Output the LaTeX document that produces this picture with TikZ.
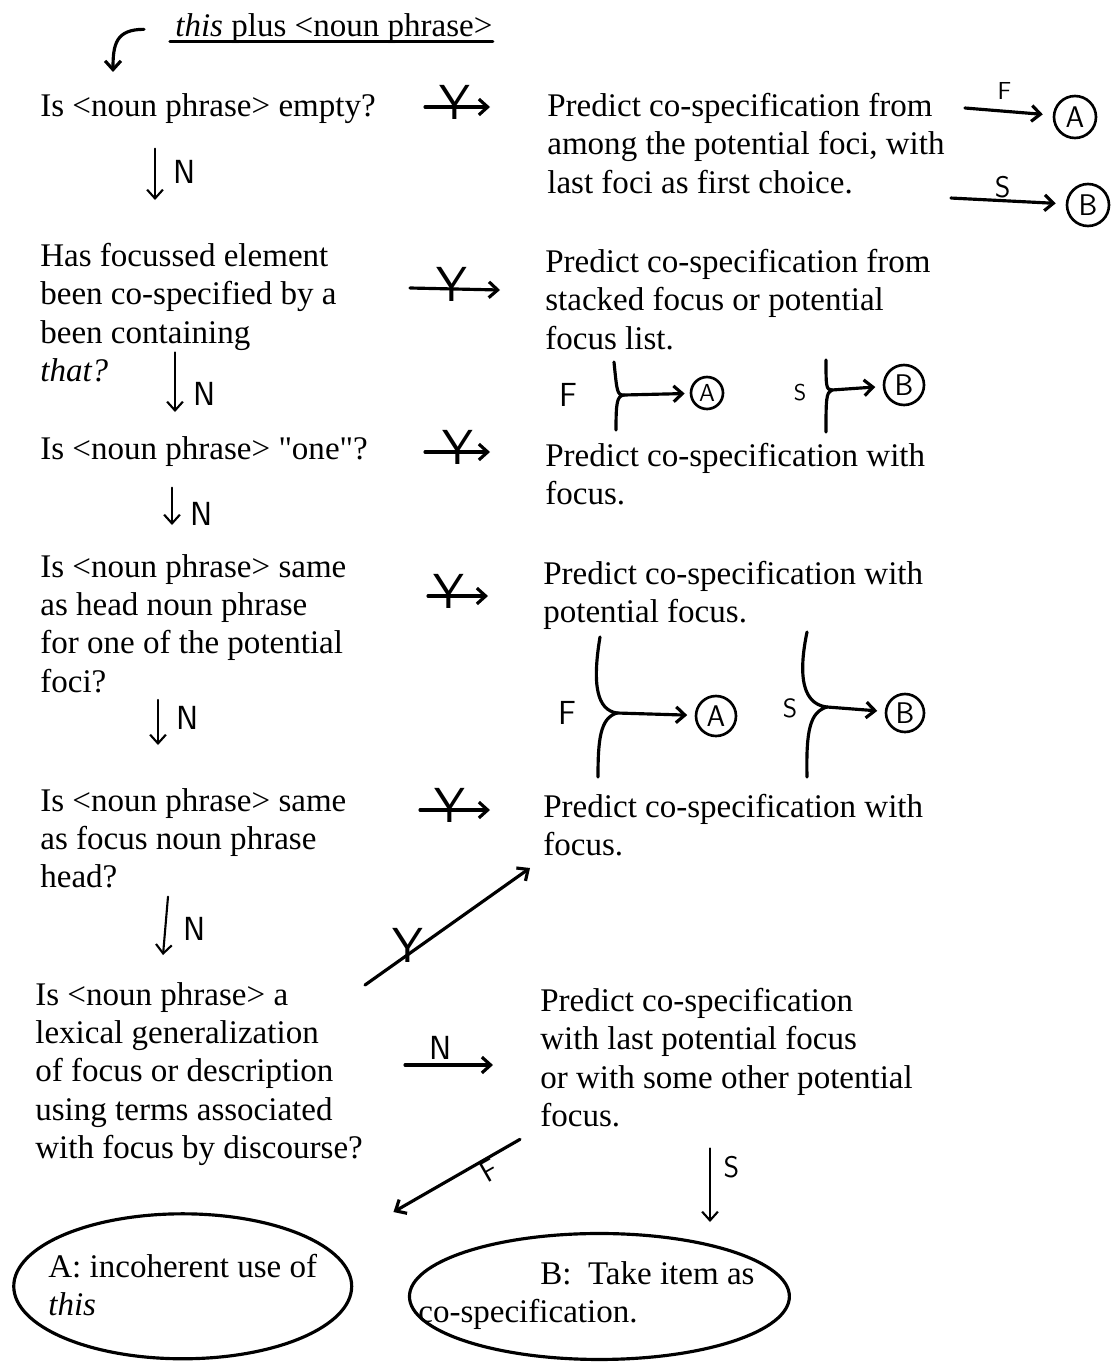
\documentclass[tikz,border=0pt]{standalone}
\usepackage{fontspec}
\setmainfont{Liberation Serif}[Ligatures=TeXOff]
\usetikzlibrary{arrows.meta}

\tikzset{
  hand/.style={line width=1.8pt, line cap=round, line join=round},
  flow/.style={hand, -{Straight Barb[length=5pt, width=9pt]}},
  nflow/.style={line width=1.2pt, line cap=round, -{Straight Barb[length=5pt, width=9pt]}},
  qtext/.style={anchor=north west, inner sep=0pt, align=left, font=\fontsize{18.8pt}{21.8pt}\selectfont},
  lab/.style={inner sep=0pt, font=\sffamily\fontsize{19pt}{19pt}\selectfont},
  nlab/.style={lab, anchor=west, xshift=0.35cm},
  ylab/.style={lab, font=\sffamily\fontsize{28pt}{28pt}\selectfont, yshift=0.1cm},
  endpt/.style={circle, draw, line width=1.5pt, inner sep=0pt, minimum size=0.84cm, font=\sffamily\fontsize{17pt}{17pt}\selectfont},
}

\begin{document}
\begin{tikzpicture}[x=0.02cm, y=-0.02cm]
\useasboundingbox (0,0) rectangle (1111,1362);

% questions
\node[qtext] (title) at (175,13) {\textit{this} plus <noun phrase>};
\node[qtext] (q1) at (40,93) {Is <noun phrase> empty?};
\node[qtext] (q2) at (40,243) {Has focussed element\\been co-specified by a\\been containing\\\textit{that?}};
\node[qtext] (q3) at (40,436) {Is <noun phrase> "one"?};
\node[qtext] (q4) at (40,554) {Is <noun phrase> same\\as head noun phrase\\for one of the potential\\foci?};
\node[qtext] (q5) at (40,788) {Is <noun phrase> same\\as focus noun phrase\\head?};
\node[qtext] (q6) at (35,982) {Is <noun phrase> a\\lexical generalization\\of focus or description\\using terms associated\\with focus by discourse?};

% predictions
\node[qtext] (p1) at (547,93) {Predict co-specification from\\among the potential foci, with\\last foci as first choice.};
\node[qtext] (p2) at (545,249) {Predict co-specification from\\stacked focus or potential\\focus list.};
\node[qtext] (p3) at (545,443) {Predict co-specification with\\focus.};
\node[qtext] (p4) at (543,561) {Predict co-specification with\\potential focus.};
\node[qtext] (p5) at (543,794) {Predict co-specification with\\focus.};
\node[qtext] (p6) at (540,988) {Predict co-specification\\with last potential focus\\or with some other potential\\focus.};

% outcomes
\node[qtext] (enda) at (48,1254) {A: incoherent use of\\\textit{this}};
\node[qtext] (endb) at (418,1261) {\hspace*{2.44cm}B:\ \ Take item as\\co-specification.};
\draw[hand] ([shift={(0,1)}]enda.center) ellipse [x radius=3.38cm, y radius=1.45cm];
\draw[hand] ([shift={(13,1)}]endb.center) ellipse [x radius=3.8cm, y radius=1.26cm];

% circled A and B
\node[endpt] (ca1) at (1075,117) {A};
\node[endpt] (cb1) at (1088,205) {B};
\node[endpt, minimum size=0.64cm, font=\sffamily\fontsize{14pt}{14pt}\selectfont] (ca2) at (707,393) {A};
\node[endpt, minimum size=0.8cm] (cb2) at (904,385) {B};
\node[endpt, minimum size=0.8cm] (ca4) at (716,716) {A};
\node[endpt, minimum size=0.76cm] (cb4) at (905,713) {B};

% title
\draw[hand] ([shift={(-5,-2)}]title.south west) -- ([shift={(0,-2)}]title.south east);
\draw[flow] ([shift={(-31,1)}]title.west) .. controls +(-28,0) and +(0,-28) .. ([shift={(73,-21)}]q1.north west);

% no
\draw[nflow] ([shift={(115,25)}]q1.south west) -- node[nlab, pos=0.45]{N} ([shift={(115,-43)}]q2.north west);
\draw[nflow] ([shift={(135,-30)}]q2.south west) -- node[nlab, pos=0.7]{N} ([shift={(135,-24)}]q3.north west);
\draw[nflow] ([shift={(132,21)}]q3.south west) -- node[nlab, pos=0.7]{N} ([shift={(132,-29)}]q4.north west);
\draw[nflow] ([shift={(118,7)}]q4.south west) -- node[nlab, pos=0.4]{N} ([shift={(118,-43)}]q5.north west);
\draw[nflow] ([shift={(128,8)}]q5.south west) -- node[nlab, pos=0.55]{N} ([shift={(128,-27)}]q6.north west);
\draw[flow] ([shift={(370,83)}]q6.north west) -- node[lab, pos=0.4, anchor=south, yshift=0.08cm]{N} ([shift={(-47,77)}]p6.north west);

% yes
\draw[flow] ([shift={(385,14)}]q1.north west) -- node[ylab, pos=0.46]{Y} ([shift={(-57,14)}]p1.north west);
\draw[flow] ([shift={(370,45)}]q2.north west) -- node[ylab, pos=0.47]{Y} ([shift={(-45,41)}]p2.north west);
\draw[flow] ([shift={(385,16)}]q3.north west) -- node[ylab, pos=0.5]{Y} ([shift={(-55,9)}]p3.north west);
\draw[flow] ([shift={(388,42)}]q4.north west) -- node[ylab, pos=0.35]{Y} ([shift={(-55,35)}]p4.north west);
\draw[flow] ([shift={(380,22)}]q5.north west) -- node[ylab, pos=0.43]{Y} ([shift={(-53,16)}]p5.north west);
\draw[flow] ([shift={(330,3)}]q6.north west) -- node[ylab, pos=0.26, yshift=0.08cm]{Y} ([shift={(-13,74)}]p5.north west);

% first choice
\draw[flow, shorten >=0.2cm] ([shift={(20,15)}]p1.north east) -- node[lab, pos=0.45, anchor=south, yshift=0.2cm, font=\sffamily\fontsize{14pt}{14pt}\selectfont]{F} (ca1);
\draw[flow, shorten >=0.2cm] ([shift={(6,4)}]p1.south east) -- node[lab, pos=0.45, anchor=south, yshift=0.02cm, font=\sffamily\fontsize{17pt}{17pt}\selectfont]{S} (cb1);

% stacked focus
\node[lab] (f2) at (568,395) {F};
\coordinate (j2) at (624,395);
\draw[hand] (614,362) .. controls (617,392) and (617,395) .. (j2) .. controls (617,396) and (616,402) .. (616,430);
\draw[flow, shorten >=0.1cm] (j2) -- (ca2);
\node[lab, font=\sffamily\fontsize{13pt}{13pt}\selectfont] (s2) at (800,393) {S};
\coordinate (k2) at (832,390);
\draw[hand] (826,360) .. controls (826,386) and (826,390) .. (k2) .. controls (826,392) and (826,400) .. (826,432);
\draw[flow, shorten >=0.15cm] (k2) -- (cb2);

% potential focus
\node[lab] (f4) at (567,713) {F};
\coordinate (j4) at (617,713);
\draw[hand] (600,637) .. controls (592,685) and (597,710) .. (j4) .. controls (600,718) and (598,740) .. (598,777);
\draw[flow, shorten >=0.15cm] (j4) -- (ca4);
\node[lab, font=\sffamily\fontsize{15pt}{15pt}\selectfont] (s4) at (790,708) {S};
\coordinate (k4) at (827,707);
\draw[hand] (807,632) .. controls (795,690) and (810,705) .. (k4) .. controls (810,712) and (806,730) .. (807,777);
\draw[flow, shorten >=0.15cm] (k4) -- (cb4);

% last potential focus
\draw[flow] ([shift={(-20,12)}]p6.south west) -- node[lab, sloped, below, pos=0.29, font=\sffamily\fontsize{17pt}{17pt}\selectfont]{F} ([shift={(76,-42)}]enda.north east);
\draw[nflow] ([shift={(170,21)}]p6.south west) -- node[nlab, pos=0.25, xshift=-0.1cm, font=\sffamily\fontsize{17pt}{17pt}\selectfont]{S} ([shift={(292,-39)}]endb.north west);
\end{tikzpicture}
\end{document}
